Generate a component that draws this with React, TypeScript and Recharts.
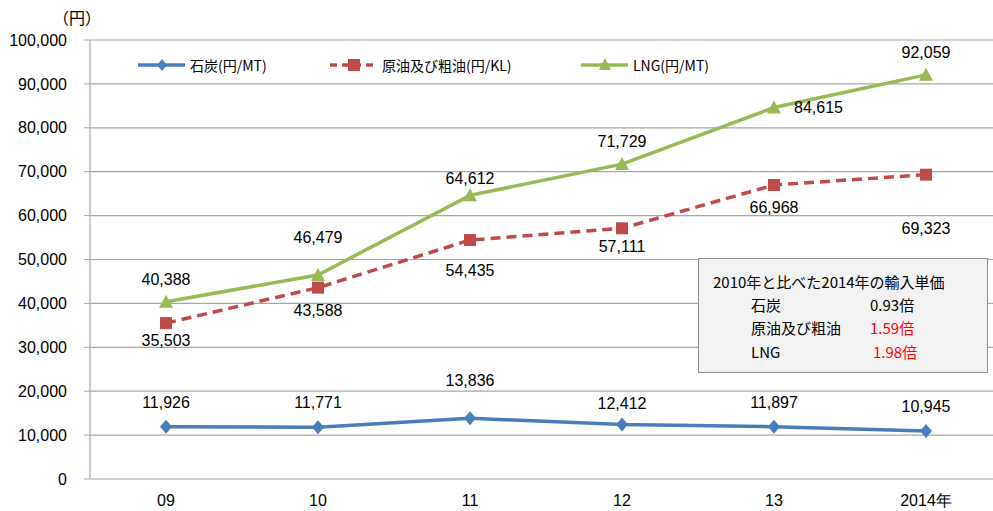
import React from 'react'
import {
  LineChart, Line, XAxis, YAxis, CartesianGrid, LabelList,
} from 'recharts'

/* ── data ─────────────────────────────────────────── */
const years = ['09', '10', '11', '12', '13', '2014年']
const coal = [11926, 11771, 13836, 12412, 11897, 10945]
const oil = [35503, 43588, 54435, 57111, 66968, 69323]
const lng = [40388, 46479, 64612, 71729, 84615, 92059]
const yTicks = [0, 10000, 20000, 30000, 40000, 50000, 60000, 70000, 80000, 90000, 100000]

// label nudges (px, vertical) — hand-placed in the original sheet
const coalDy = [-24, -25, -38, -21, -24, -24]
const oilDy = [17, 23, 30, 18, 22, 54]
const lngDy = [-22, -37, -17, -23, 0, -22]

const data = years.map((y, i) => ({ x: i, year: y, coal: coal[i], oil: oil[i], lng: lng[i] }))

/* ── styles ───────────────────────────────────────── */
const FONT = '"Liberation Sans", Arial, sans-serif'
const JP = '"Noto Sans CJK JP", sans-serif'
const C_COAL = '#4a7ebb'
const C_OIL = '#be4b48'
const C_LNG = '#98b954'
const GRID = '#a6a6a6'
const TICK_STYLE = { fill: '#000', fontSize: 16, fontFamily: FONT }

const fmt = (v: number) => v.toLocaleString('en-US')

/* ── markers ──────────────────────────────────────── */
const Diamond = (p: any) => {
  const { cx, cy } = p
  if (cx == null) return null
  return <path d={`M${cx},${cy - 7}L${cx + 6},${cy}L${cx},${cy + 7}L${cx - 6},${cy}Z`} fill={C_COAL} />
}
const Square = (p: any) => {
  const { cx, cy } = p
  if (cx == null) return null
  return <rect x={cx - 6} y={cy - 6} width={12} height={12} fill={C_OIL} />
}
const Triangle = (p: any) => {
  const { cx, cy } = p
  if (cx == null) return null
  return <path d={`M${cx},${cy - 7}L${cx + 7},${cy + 6}L${cx - 7},${cy + 6}Z`} fill={C_LNG} />
}

const makeLabel = (dys: number[]) => (props: any) => {
  const { x, y, value, index } = props
  const dy = dys[index]
  // a zero nudge means the label sits to the right of the point
  const side = dy === 0
  return (
    <text x={side ? x + 20 : x} y={y + dy} textAnchor={side ? 'start' : 'middle'} dominantBaseline="central"
      fontSize={16} fontFamily={FONT} fill="#000">{fmt(value)}</text>
  )
}

/* ── legend ───────────────────────────────────────── */
const LegendBox = () => {
  const item = (left: number, color: string, mark: React.ReactNode, label: string, dashed = false) => (
    <div style={{ position: 'absolute', left, top: 0, display: 'flex', alignItems: 'center' }}>
      <svg width={50} height={16}>
        <line x1={1} y1={8} x2={48} y2={8} stroke={color} strokeWidth={3.5}
          strokeDasharray={dashed ? '7 5' : undefined} />
        {mark}
      </svg>
      <span style={{ fontFamily: JP, fontSize: 14, marginLeft: 3, color: '#000' }}>{label}</span>
    </div>
  )
  return (
    <div style={{ position: 'absolute', top: 55, left: 137, height: 20, width: 700 }}>
      {item(0, C_COAL, <path d="M25,2L30,8L25,14L20,8Z" fill={C_COAL} />, '石炭(円/MT)')}
      {item(192, C_OIL, <rect x={19} y={2} width={12} height={12} fill={C_OIL} />, '原油及び粗油(円/KL)', true)}
      {item(443, C_LNG, <path d="M25,1L31,13L19,13Z" fill={C_LNG} />, 'LNG(円/MT)')}
    </div>
  )
}

export default function App() {
  return (
    <div style={{ position: 'absolute', left: 0, top: 0, width: 993, height: 511, overflow: 'hidden', background: '#fff' }}>
      <div style={{ position: 'absolute', left: 53, top: 5, fontFamily: JP, fontSize: 16 }}>（円）</div>
      <LineChart width={1002} height={511} data={data}
        margin={{ top: 40, right: 0, left: 0, bottom: 0 }}>
        <CartesianGrid horizontal vertical={false} stroke={GRID} strokeWidth={1.2} />
        <XAxis xAxisId="lab" dataKey="x" type="number" domain={[-0.5, 5.5]} ticks={[0, 1, 2, 3, 4, 5]}
          tickFormatter={(v: number) => years[v]} height={32} axisLine={false} tickLine={false}
          tick={TICK_STYLE} tickMargin={10} />
        <XAxis xAxisId="grid" dataKey="x" type="number" domain={[-0.5, 5.5]}
          ticks={[-0.5, 0.5, 1.5, 2.5, 3.5, 4.5, 5.5]} tick={false} height={0}
          axisLine={{ stroke: GRID, strokeWidth: 1.2 }} tickLine={{ stroke: GRID }} tickSize={6} />
        <YAxis domain={[0, 100000]} ticks={yTicks} tickFormatter={fmt} width={90}
          tick={TICK_STYLE} tickSize={6} tickMargin={17}
          axisLine={{ stroke: GRID, strokeWidth: 1.2 }} tickLine={{ stroke: GRID }} />
        <Line xAxisId="lab" dataKey="coal" stroke={C_COAL} strokeWidth={3.5} dot={<Diamond />}
          isAnimationActive={false} name="石炭(円/MT)">
          <LabelList dataKey="coal" content={makeLabel(coalDy)} />
        </Line>
        <Line xAxisId="lab" dataKey="oil" stroke={C_OIL} strokeWidth={3.5} strokeDasharray="10 6"
          dot={<Square />} isAnimationActive={false} name="原油及び粗油(円/KL)">
          <LabelList dataKey="oil" content={makeLabel(oilDy)} />
        </Line>
        <Line xAxisId="lab" dataKey="lng" stroke={C_LNG} strokeWidth={3.5} dot={<Triangle />}
          isAnimationActive={false} name="LNG(円/MT)">
          <LabelList dataKey="lng" content={makeLabel(lngDy)} />
        </Line>
      </LineChart>
      <LegendBox />
      <div style={{
        position: 'absolute', left: 698, top: 258, width: 290, height: 115, boxSizing: 'border-box',
        background: '#f2f2f2', border: '1.5px solid #8c8c8c', fontFamily: JP, fontSize: 15, color: '#000',
      }}>
        <div style={{ position: 'absolute', left: 14, top: 12 }}>2010年と比べた2014年の輸入単価</div>
        <div style={{ position: 'absolute', left: 52, top: 35 }}>石炭</div>
        <div style={{ position: 'absolute', left: 171, top: 35 }}>0.93倍</div>
        <div style={{ position: 'absolute', left: 52, top: 58 }}>原油及び粗油</div>
        <div style={{ position: 'absolute', left: 171, top: 58, color: '#ff0000' }}>1.59倍</div>
        <div style={{ position: 'absolute', left: 52, top: 82 }}>LNG</div>
        <div style={{ position: 'absolute', left: 174, top: 82, color: '#ff0000' }}>1.98倍</div>
      </div>
    </div>
  )
}
